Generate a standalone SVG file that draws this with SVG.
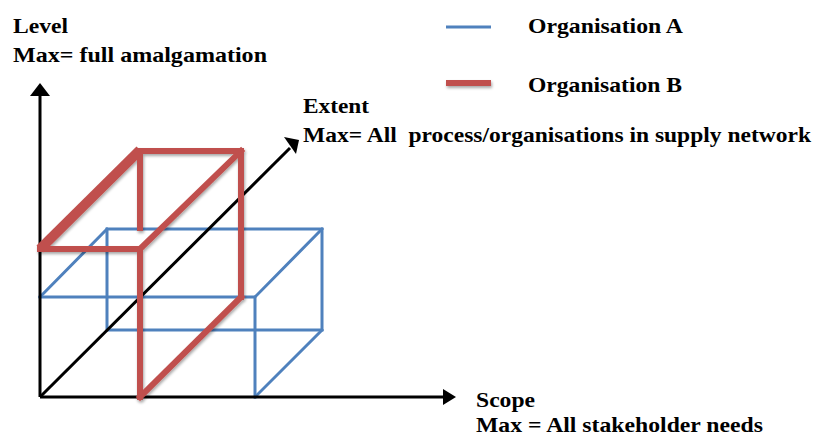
<svg xmlns="http://www.w3.org/2000/svg" width="819" height="436" viewBox="0 0 819 436">
  <defs>
    <style>
      text { font-family: 'Liberation Serif', 'DejaVu Serif', serif; font-weight: 700; font-size: 22px; fill: #000; }
      .axis { stroke: #000; stroke-width: 3; fill: none; }
      .orgA { stroke: #4F81BD; stroke-width: 3; fill: none; stroke-linecap: square; }
      .orgB { stroke: #C0504D; stroke-width: 6; fill: none; stroke-linecap: square; }
    </style>
    <filter id="shade" filterUnits="userSpaceOnUse" x="0" y="0" width="819" height="436">
      <feGaussianBlur in="SourceAlpha" stdDeviation="1.5"/>
      <feOffset dx="1" dy="2" result="b"/>
      <feComponentTransfer><feFuncA type="linear" slope="0.35"/></feComponentTransfer>
      <feMerge><feMergeNode/><feMergeNode in="SourceGraphic"/></feMerge>
    </filter>
  </defs>
  <rect width="819" height="436" fill="#fff"/>

  <!-- Organisation A: wireframe box -->
  <g id="org-a" class="orgA">
    <path d="M40,297 H255 V397"/>
    <path d="M107,229 H322 V330 H107 Z"/>
    <path d="M40,297 L107,229 M255,297 L322,229 M255,397 L322,330"/>
  </g>

  <!-- Axes -->
  <g id="axes">
    <line class="axis" x1="40" y1="397" x2="40" y2="96"/>
    <path d="M30,96 L40,83 L50,96 Z" fill="#000"/>
    <line class="axis" x1="40" y1="397" x2="444" y2="397"/>
    <path d="M443,389 L456,397 L443,405 Z" fill="#000"/>
    <line class="axis" x1="40" y1="397" x2="290" y2="148"/>
    <path d="M284,137 L299,140 L296,154 Z" fill="#000"/>
  </g>

  <!-- Organisation B: extruded frame -->
  <g id="org-b" class="orgB" filter="url(#shade)">
    <path d="M40,249 L140,150" stroke-width="10" stroke-linecap="butt"/>
    <path d="M40,249 H140"/>
    <path d="M140,151 H241"/>
    <path d="M140,151 V228"/>
    <path d="M140,249 L241,151"/>
    <path d="M241,151 V297"/>
    <path d="M241,297 L140,397"/>
    <path d="M140,249 V397"/>
  </g>

  <!-- Legend -->
  <g id="legend">
    <line x1="446" y1="27" x2="491" y2="27" stroke="#4F81BD" stroke-width="3"/>
    <line x1="446" y1="83" x2="491" y2="83" stroke="#C0504D" stroke-width="6" filter="url(#shade)"/>
    <text x="528" y="33" textLength="155" lengthAdjust="spacingAndGlyphs">Organisation A</text>
    <text x="528" y="92" textLength="154" lengthAdjust="spacingAndGlyphs">Organisation B</text>
  </g>

  <!-- Axis labels -->
  <g id="label-level">
    <text x="13" y="33" textLength="55" lengthAdjust="spacingAndGlyphs">Level</text>
    <text x="13" y="62" textLength="254" lengthAdjust="spacingAndGlyphs">Max= full amalgamation</text>
  </g>
  <g id="label-extent">
    <text x="303" y="113" textLength="66" lengthAdjust="spacingAndGlyphs">Extent</text>
    <text x="303" y="142" textLength="508" lengthAdjust="spacingAndGlyphs" xml:space="preserve">Max= All  process/organisations in supply network</text>
  </g>
  <g id="label-scope">
    <text x="476" y="407" textLength="59" lengthAdjust="spacingAndGlyphs">Scope</text>
    <text x="476" y="432" textLength="287" lengthAdjust="spacingAndGlyphs">Max = All stakeholder needs</text>
  </g>
</svg>
